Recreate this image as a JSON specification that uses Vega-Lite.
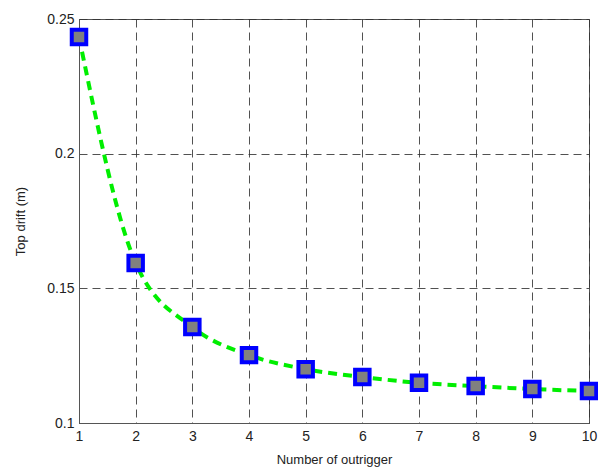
{
  "$schema": "https://vega.github.io/schema/vega-lite/v6.json",
  "width": 510,
  "height": 404,
  "autosize": {"type": "none"},
  "padding": {"left": 79, "top": 19, "right": 9, "bottom": 48},
  "background": "white",
  "config": {
    "view": {"stroke": "#555555", "strokeWidth": 1},
    "font": "Liberation Sans",
    "axis": {
      "labelFont": "Liberation Sans",
      "titleFont": "Liberation Sans",
      "labelFontSize": 14,
      "titleFontSize": 13,
      "titleFontWeight": "normal",
      "labelColor": "#222222",
      "titleColor": "#222222",
      "domainColor": "#555555",
      "gridColor": "#333333",
      "gridDash": [8, 5],
      "gridOpacity": 0.85,
      "gridWidth": 1,
      "tickColor": "#555555"
    }
  },
  "data": {
    "values": [
      {"n": 1, "drift": 0.2433},
      {"n": 2, "drift": 0.1594},
      {"n": 3, "drift": 0.1356},
      {"n": 4, "drift": 0.1252},
      {"n": 5, "drift": 0.1200},
      {"n": 6, "drift": 0.1171},
      {"n": 7, "drift": 0.1149},
      {"n": 8, "drift": 0.1137},
      {"n": 9, "drift": 0.1126},
      {"n": 10, "drift": 0.1119}
    ]
  },
  "encoding": {
    "x": {
      "field": "n",
      "type": "quantitative",
      "scale": {"domain": [1, 10], "nice": false},
      "axis": {
        "title": "Number of outrigger",
        "values": [1, 2, 3, 4, 5, 6, 7, 8, 9, 10],
        "tickSize": 0,
        "labelPadding": 6,
        "titlePadding": 10,
        "labelFlush": false
      }
    },
    "y": {
      "field": "drift",
      "type": "quantitative",
      "scale": {"domain": [0.1, 0.25], "nice": false, "zero": false},
      "axis": {
        "title": "Top drift (m)",
        "values": [0.1, 0.15, 0.2, 0.25],
        "format": "~g",
        "tickSize": 0,
        "labelPadding": 5,
        "titlePadding": 19,
        "labelFlush": false
      }
    }
  },
  "layer": [
    {
      "mark": {
        "type": "line",
        "color": "#00ee00",
        "strokeWidth": 4,
        "strokeDash": [9, 6],
        "interpolate": "monotone"
      }
    },
    {
      "mark": {
        "type": "point",
        "shape": "square",
        "filled": true,
        "fill": "#808080",
        "stroke": "#0000ff",
        "strokeWidth": 4,
        "size": 210,
        "opacity": 1
      }
    }
  ]
}
